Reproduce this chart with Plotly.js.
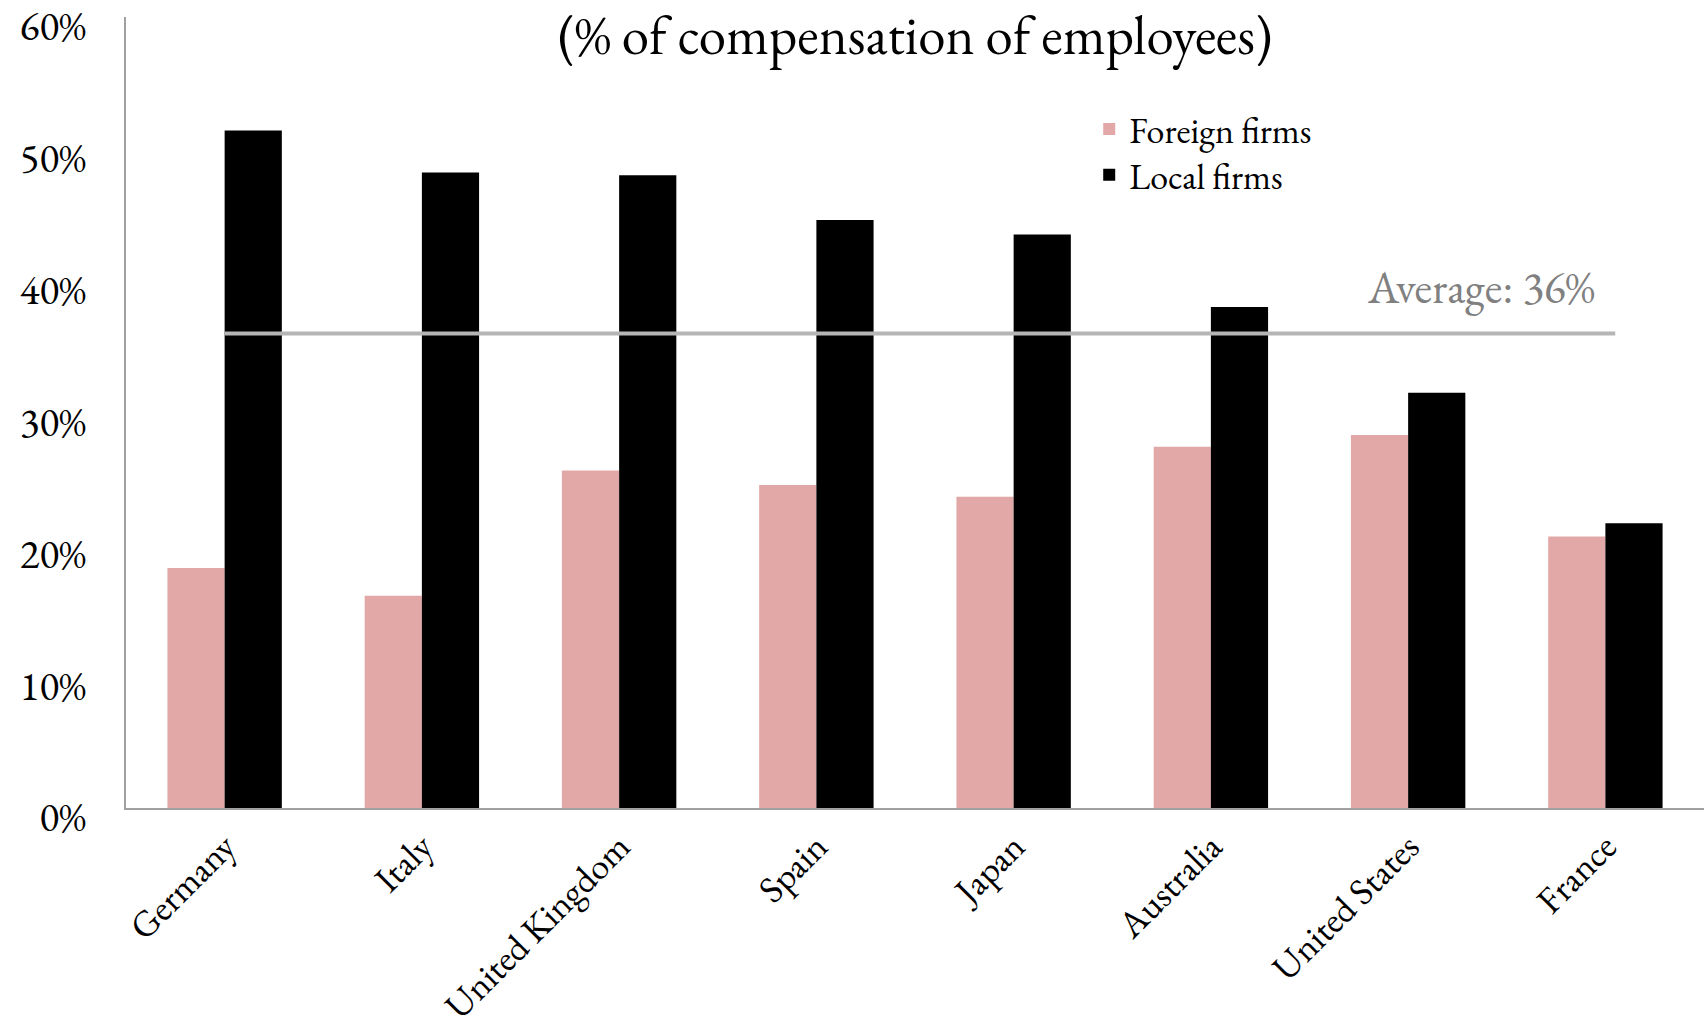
<!DOCTYPE html>
<html>
<head>
<meta charset="utf-8">
<script src="https://cdn.plot.ly/plotly-3.0.1.min.js"></script>
<style>html,body{margin:0;padding:0;background:#fff;}#chart{width:1704px;height:1032px;}</style>
</head>
<body>
<div id="chart"></div>
<script>
var countries = ["Germany","Italy","United Kingdom","Spain","Japan","Australia","United States","France"];
var foreignFirms = [18.2,16.1,25.6,24.5,23.6,27.4,28.3,20.6];
var localFirms = [51.4,48.2,48.0,44.6,43.5,38.0,31.5,21.6];
var averageValue = 36;
var yTickVals = [0,10,20,30,40,50,60];
var yTickText = ["0%","10%","20%","30%","40%","50%","60%"];

var FONT = "EB Garamond, Garamond, 'Liberation Serif', serif";

var traces = [
  {type:"bar", name:"Foreign firms", x:countries, y:foreignFirms, marker:{color:"#e2a8a7"}, legend:"legend"},
  {type:"bar", name:"Local firms", x:countries, y:localFirms, marker:{color:"#000000"}, legend:"legend2"}
];

var legendBase = {xanchor:"left", yanchor:"middle", font:{size:36, family:FONT, color:"#000"}, bgcolor:"rgba(0,0,0,0)", borderwidth:0};

var layout = {
  width:1704, height:1032,
  margin:{l:126, r:0, t:17, b:224},
  paper_bgcolor:"#fff", plot_bgcolor:"#fff",
  font:{family:FONT, color:"#000", size:34},
  barmode:"group", bargap:0.42, bargroupgap:0,
  showlegend:true,
  legend:Object.assign({}, legendBase, {x:0.6104, y:0.8584}),
  legend2:Object.assign({}, legendBase, {x:0.6104, y:0.8003}),
  title:{text:"(% of compensation of employees)", x:0.537, xanchor:"center", xref:"container", y:0.966, yref:"container", yanchor:"middle", font:{size:55, family:FONT, color:"#000"}},
  xaxis:{type:"category", showline:true, linecolor:"#a0a0a0", linewidth:2, ticks:"", showgrid:false, zeroline:false, tickangle:-45, tickfont:{size:37, family:FONT}, range:[-0.5,7.5], fixedrange:true},
  yaxis:{range:[0,60], tickvals:yTickVals, ticktext:yTickText, showline:true, linecolor:"#a0a0a0", linewidth:2, ticks:"", showgrid:false, zeroline:false, tickfont:{size:41, family:FONT}, ticklabelstandoff:30, ticklabelshift:9, ticklabeloverflow:"allow", fixedrange:true},
  shapes:[{type:"line", xref:"x", yref:"y", x0:0, x1:7.05, y0:averageValue, y1:averageValue, line:{color:"#b5b5b5", width:4}}],
  annotations:[{xref:"x", yref:"y", x:6.37, y:averageValue+3.5, text:"Average: " + averageValue + "%", showarrow:false, font:{size:45, family:FONT, color:"#808080"}, xanchor:"center", yanchor:"middle"}]
};

Plotly.newPlot("chart", traces, layout, {displayModeBar:false, staticPlot:true});
</script>
</body>
</html>
